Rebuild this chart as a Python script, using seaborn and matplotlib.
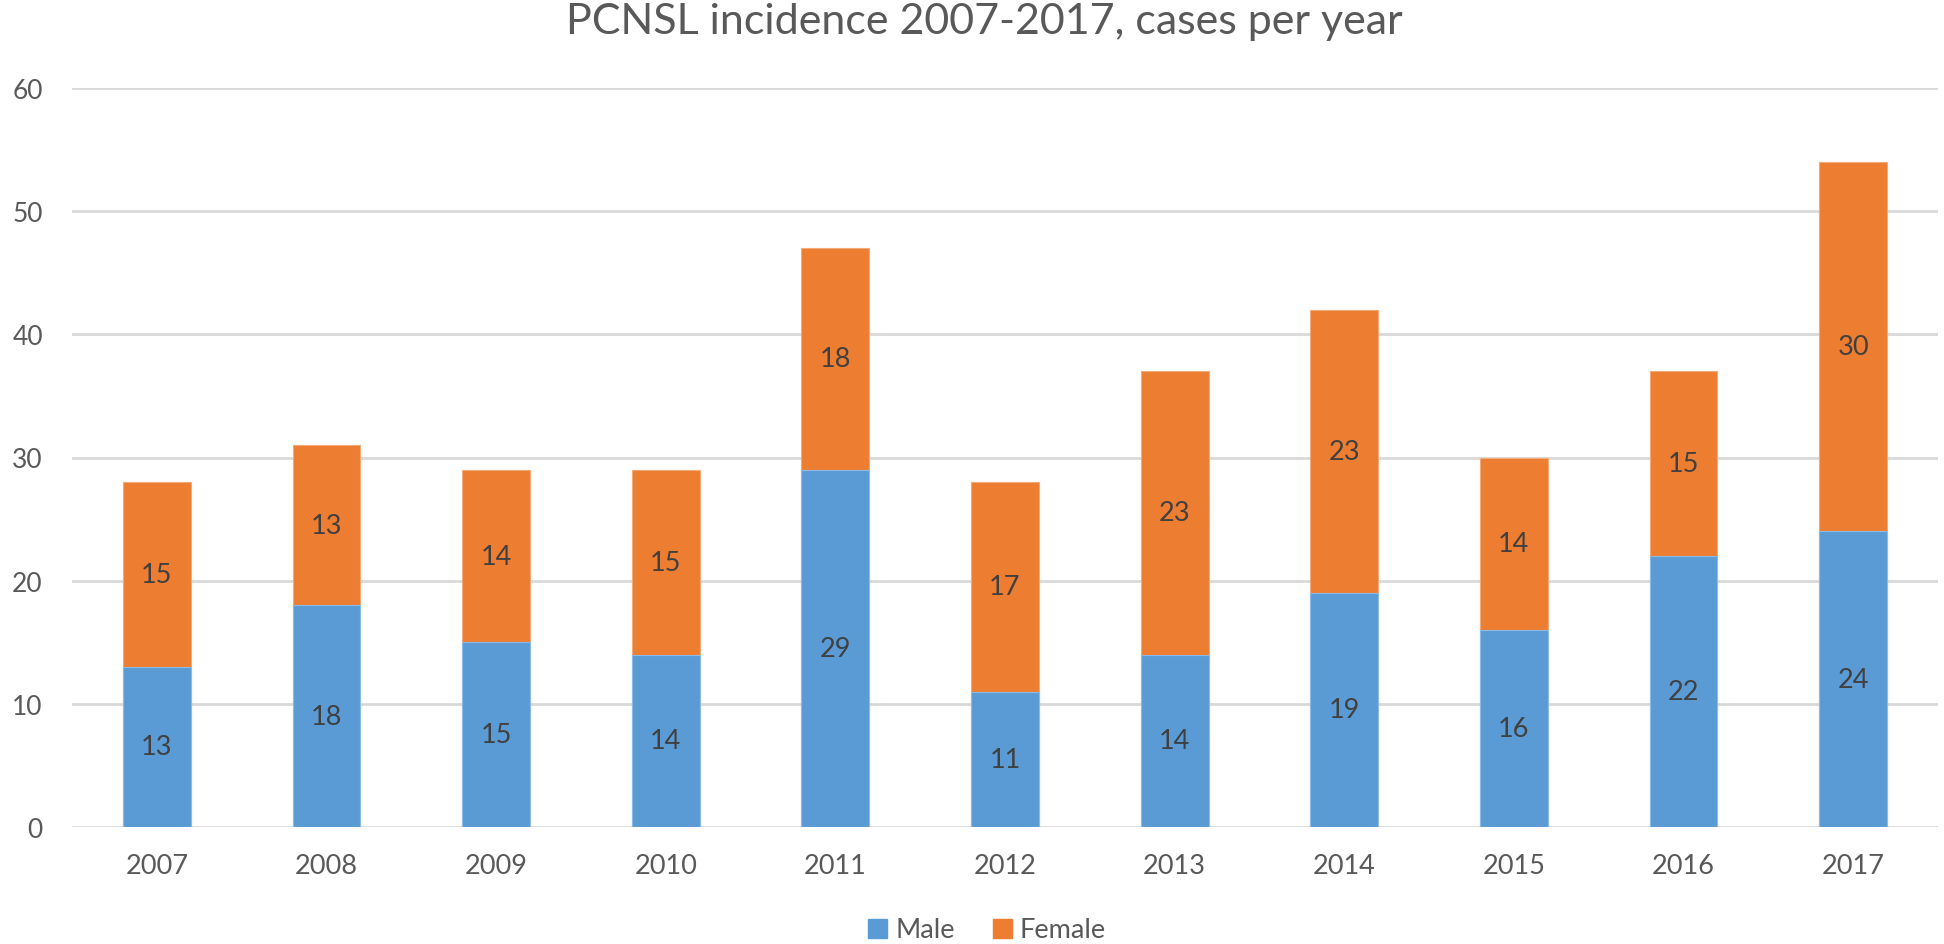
import pandas as pd
import matplotlib.pyplot as plt
import seaborn as sns
from matplotlib.patches import Patch

# Datos
years = ['2007', '2008', '2009', '2010', '2011', '2012', '2013', '2014', '2015', '2016', '2017']
male = [13, 18, 15, 14, 29, 11, 14, 19, 16, 22, 24]
female = [15, 13, 14, 15, 18, 17, 23, 23, 14, 15, 30]

df = pd.DataFrame({'year': years, 'Male': male, 'Female': female})
df['total'] = df['Male'] + df['Female']

blue = '#5B9BD5'
orange = '#ED7D31'
gray = '#595959'

sns.set_theme(style="white")
plt.rcParams['font.family'] = ['Lato', 'DejaVu Sans']

fig = plt.figure(figsize=(19.44, 9.45), dpi=100)
ax = fig.add_axes([72 / 1944, 1 - 828 / 945, (1938 - 72) / 1944, (828 - 89) / 945])

# barras apiladas: total (naranja) y encima hombres (azul)
sns.barplot(data=df, x='year', y='total', color=orange, saturation=1, width=0.4,
            edgecolor='#F5A878', linewidth=0.8, ax=ax)
sns.barplot(data=df, x='year', y='Male', color=blue, saturation=1, width=0.4,
            edgecolor='#8DBBE5', linewidth=0.8, ax=ax)

# etiquetas
for i, row in df.iterrows():
    ax.text(i, row['Male'] / 2, str(row['Male']), ha='center', va='center',
            fontsize=19.5, color='#404040')
    ax.text(i, row['Male'] + row['Female'] / 2, str(row['Female']), ha='center', va='center',
            fontsize=19.5, color='#404040')

ax.set_ylim(0, 60)
ax.set_xlim(-0.5, len(years) - 0.5)
ax.set_yticks(range(0, 61, 10))
ax.yaxis.grid(True, color='#D9D9D9', linewidth=2)
ax.set_axisbelow(True)
for s in ax.spines.values():
    s.set_visible(False)
ax.set_xlabel('')
ax.set_ylabel('')
ax.tick_params(axis='y', length=0, pad=21, labelsize=19, labelcolor=gray)
ax.tick_params(axis='x', length=0, pad=19, labelsize=19.5, labelcolor=gray)

fig.text(984 / 1944, 1 - 22 / 945, 'PCNSL incidence 2007-2017, cases per year',
         ha='center', va='center', fontsize=31, color=gray)

handles = [Patch(color=blue, label='Male'), Patch(color=orange, label='Female')]
fig.legend(handles=handles, loc='center', bbox_to_anchor=(987 / 1944, 1 - 931 / 945),
           ncol=2, frameon=False, fontsize=19.5, labelcolor=gray,
           handlelength=0.7, handleheight=0.7, handletextpad=0.3, columnspacing=1.4)

fig.savefig('out.png', dpi=100)
plt.close()
